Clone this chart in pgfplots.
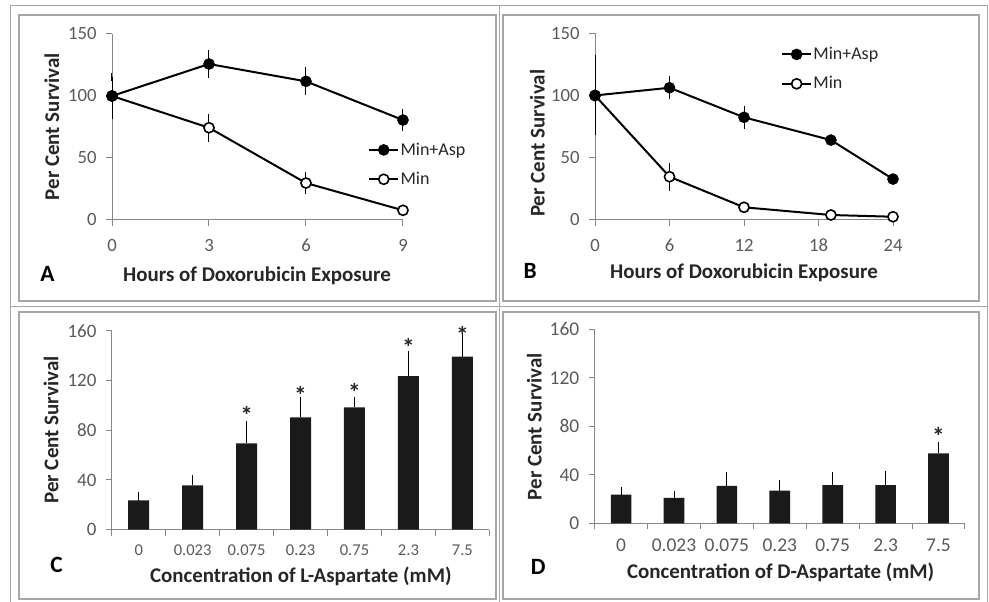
\documentclass[border=0pt]{standalone}
\usepackage{fontspec}
\setmainfont{Carlito}
\usepackage{pgfplots}
\pgfplotsset{compat=1.18}
\definecolor{tickgray}{HTML}{595959}
\definecolor{axgray}{HTML}{868686}
\definecolor{framegray}{HTML}{A6A6A6}
\definecolor{lab}{HTML}{262626}
\definecolor{barblk}{HTML}{1A1A1A}
\newcommand\tfAB{\fontsize{14}{15}\selectfont}
\newcommand\tfC{\fontsize{12.4}{13}\selectfont}
\newcommand\tfCy{\fontsize{14.2}{15}\selectfont}
\newcommand\tfD{\fontsize{14.6}{15}\selectfont}
\pgfplotsset{
  base/.style={scale only axis, axis lines=left,
    axis line style={axgray, line width=0.75pt, -},
    tick style={axgray, line width=0.75pt},
    tick align=outside, major tick length=4.5pt, minor tick length=4.5pt,
    /pgf/number format/assume math mode=true,
    ticklabel style={text=tickgray},
    yticklabel style={xshift=-3.5pt},
    clip=false, anchor=south west},
  linechart/.style={base, ymin=0, ymax=150, ytick={0,50,100,150},
    yticklabel={\tfAB\pgfmathprintnumber{\tick}},
    xticklabel={\tfAB\pgfmathprintnumber{\tick}},
    xticklabel style={yshift=-6.5pt},
    legend style={draw=none, fill=none, font=\fontsize{13.5}{15}\selectfont, text=lab,
      anchor=north west, inner sep=0pt, row sep=9.25pt, nodes={inner sep=1pt}},
    legend cell align=left, reverse legend},
  barchart/.style={base, ymin=0, ymax=160, ytick={0,40,80,120,160},
    xmin=-0.5, xmax=6.5, xtick={0,...,6},
    minor xtick={-0.5,0.5,...,6.5},
    every major x tick/.append style={draw=none}},
  errA/.style={error bars/.cd, y dir=both, y explicit,
    error bar style={black, line width=0.75pt},
    error mark options={mark size=3pt, line width=0.75pt}},
  errC/.style={error bars/.cd, y dir=plus, y explicit,
    error bar style={black, line width=0.75pt},
    error mark options={mark size=3.5pt, line width=0.75pt}},
  minsty/.style={black, line width=1.5pt, mark=*, mark size=3.8pt,
    mark options={fill=white, line width=1.2pt}},
  aspsty/.style={black, line width=1.5pt, mark=*, mark size=4.1pt,
    mark options={fill=black, line width=0.5pt}},
  star/.style={draw=none, mark=none, nodes near coords={\textbf{*}},
    every node near coord/.style={anchor=center, yshift=-3.5pt, font=\bfseries\fontsize{19}{19}\selectfont, text=lab}},
}
\begin{document}
\begin{tikzpicture}
\useasboundingbox (0,0) rectangle (741.75pt,451.5pt);
% frames
\draw[framegray, line width=0.75pt] (7.5pt,0pt) -- (7.5pt,447pt) -- (740.25pt,447pt) -- (740.25pt,0pt);
\draw[framegray, line width=0.75pt] (374.25pt,0pt) -- (374.25pt,447pt);
\draw[framegray, line width=0.75pt] (7.5pt,221.5pt) -- (740.25pt,221.5pt);
\draw[framegray, line width=0.9pt] (14.25pt,225.75pt) rectangle (372pt,440.25pt);
\draw[framegray, line width=0.9pt] (377.25pt,225.75pt) rectangle (734.25pt,440.25pt);
\draw[framegray, line width=0.9pt] (14.25pt,2.25pt) rectangle (372pt,217.5pt);
\draw[framegray, line width=0.9pt] (377.25pt,2.25pt) rectangle (734.25pt,217.5pt);

% Panel A
\begin{axis}[linechart, at={(84pt,286.5pt)}, width=218.25pt, height=139.5pt,
  xmin=0, xmax=9, xtick={0,3,6,9},
  legend style={at={(0.88,0.424)}},
  legend image code/.code={\draw[mark repeat=2,mark phase=2,#1] plot coordinates {(0cm,0cm) (0.38cm,0cm) (0.76cm,0cm)};}]
\addplot[minsty, errA] coordinates {(0,100) +- (0,0) (3,74.4) +- (0,8) (6,29.8) +- (0,6) (9,7.8) +- (0,0)};
\addlegendentry{Min}
\addplot[aspsty, errA] coordinates {(0,100) +- (0,15) (3,125.8) +- (0,8) (6,111.8) +- (0,8) (9,80.6) +- (0,6)};
\addlegendentry{Min+Asp}
\end{axis}

% Panel B
\begin{axis}[linechart, at={(446.25pt,286.7pt)}, width=223.5pt, height=139.8pt,
  xmin=0, xmax=24, xtick={0,6,12,18,24},
  legend style={at={(0.624,0.934)}},
  legend image code/.code={\draw[mark repeat=2,mark phase=2,#1] plot coordinates {(0cm,0cm) (0.38cm,0cm) (0.76cm,0cm)};}]
\addplot[minsty, errA] coordinates {(0,100) +- (0,29) (6,34.6) +- (0,8) (12,10.0) +- (0,0) (19,3.8) +- (0,0) (24,2.4) +- (0,0)};
\addlegendentry{Min}
\addplot[aspsty, errA] coordinates {(0,100) +- (0,0) (6,106.2) +- (0,6) (12,82.4) +- (0,6) (19,64.1) +- (0,0) (24,32.7) +- (0,0)};
\addlegendentry{Min+Asp}
\end{axis}

% Panel C
\begin{axis}[barchart, at={(83.8pt,54.2pt)}, width=283.2pt, height=149.25pt,
  yticklabel={\tfCy\pgfmathprintnumber{\tick}},
  xticklabels={\tfC 0,\tfC 0.023,\tfC 0.075,\tfC 0.23,\tfC 0.75,\tfC 2.3,\tfC 7.5},
  xticklabel style={yshift=-3pt}]
\addplot[ybar, bar width=15.75pt, fill=barblk, draw=none, errC] coordinates {
 (0,23.6) +- (0,3.2) (1,35.6) +- (0,4.6) (2,69.4) +- (0,14.5) (3,90.3) +- (0,12.9)
 (4,98.4) +- (0,4.8) (5,123.5) +- (0,16.1) (6,139.1) +- (0,16.1)};
\addplot[star] coordinates {(2,95.4) (3,111.8) (4,114.5) (5,150.3) (6,159.8)};
\end{axis}

% Panel D
\begin{axis}[barchart, at={(446pt,59pt)}, width=277.7pt, height=145.5pt,
  yticklabel={\tfD\pgfmathprintnumber{\tick}},
  xticklabels={\tfD 0,\tfD 0.023,\tfD 0.075,\tfD 0.23,\tfD 0.75,\tfD 2.3,\tfD 7.5},
  xticklabel style={yshift=-3.75pt}]
\addplot[ybar, bar width=15.5pt, fill=barblk, draw=none, errC] coordinates {
 (0,23.6) +- (0,2.8) (1,20.9) +- (0,1.6) (2,30.8) +- (0,7.4) (3,26.9) +- (0,5.3)
 (4,31.6) +- (0,6.6) (5,31.6) +- (0,7.7) (6,57.7) +- (0,5.5)};
\addplot[star] coordinates {(6,75.5)};
\end{axis}

% labels
\begin{scope}[font=\bfseries\fontsize{15.7}{17}\selectfont, text=lab]
\node[anchor=base] at (192.75pt,240.2pt) {Hours of Doxorubicin Exposure};
\node[anchor=base] at (558pt,242.8pt) {Hours of Doxorubicin Exposure};
\node[anchor=base] at (225.6pt,14.5pt) {Concentration of L-Aspartate (mM)};
\node[anchor=base] at (585.5pt,17.75pt) {Concentration of D-Aspartate (mM)};
\node[anchor=base, rotate=90] at (44.25pt,356.5pt) {Per Cent Survival};
\node[anchor=base, rotate=90] at (408.5pt,344pt) {Per Cent Survival};
\node[anchor=base, rotate=90] at (43.75pt,129pt) {Per Cent Survival};
\node[anchor=base, rotate=90] at (406.25pt,131.5pt) {Per Cent Survival};
\end{scope}
\begin{scope}[font=\bfseries\fontsize{17.5}{19}\selectfont, text=black]
\node[anchor=base west, inner sep=0pt] at (30pt,240.2pt) {A};
\node[anchor=base west, inner sep=0pt] at (392.5pt,242.8pt) {B};
\node[anchor=base west, inner sep=0pt] at (37.5pt,22pt) {C};
\node[anchor=base west, inner sep=0pt] at (398pt,20.25pt) {D};
\end{scope}
\end{tikzpicture}
\end{document}
